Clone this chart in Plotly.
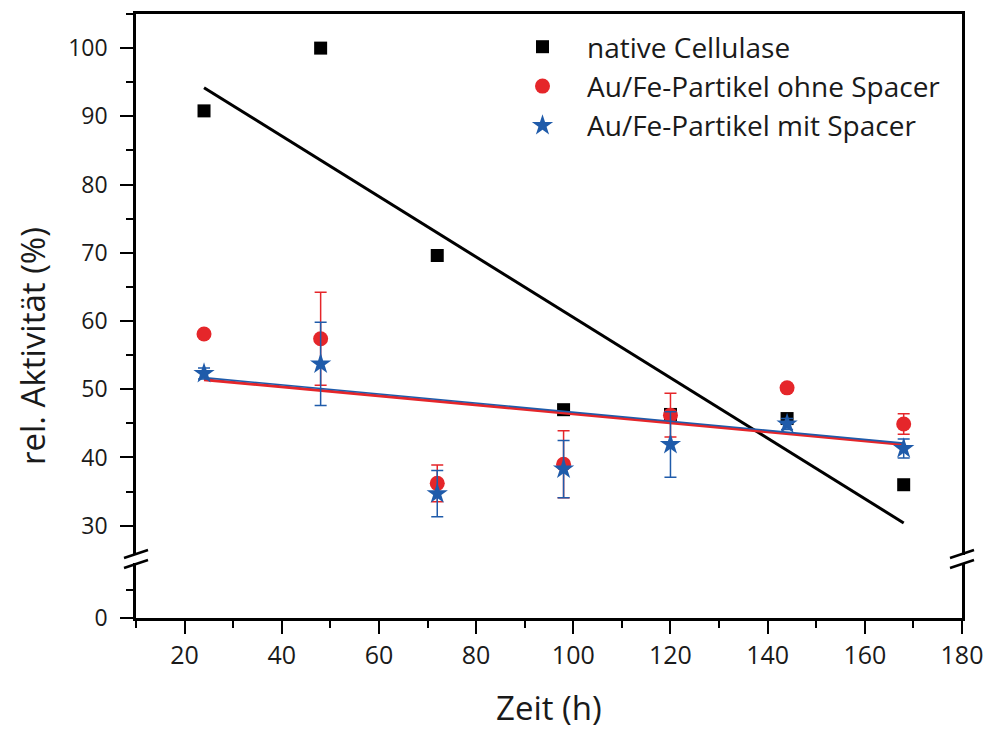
import plotly.graph_objects as go
from plotly.subplots import make_subplots

# ---------------- data ----------------
zeit_h = [24, 48, 72, 98, 120, 144, 168]

native_cellulase = [90.8, 100.0, 69.6, 47.0, 46.3, 45.7, 36.0]

ohne_spacer = [58.1, 57.4, 36.2, 39.0, 46.2, 50.2, 44.9]
ohne_spacer_err = [0.4, 6.8, 2.7, 4.9, 3.2, 0.4, 1.5]

mit_spacer = [52.3, 53.7, 34.7, 38.3, 41.9, 44.9, 41.3]
mit_spacer_err = [0.8, 6.1, 3.4, 4.2, 4.8, 0.8, 1.4]

# linear fit lines (values at the end points)
fit_x = [24, 168]
fit_native = [94.2, 30.4]
fit_ohne = [51.4, 41.9]
fit_mit = [51.7, 42.1]

names = ["native Cellulase", "Au/Fe-Partikel ohne Spacer", "Au/Fe-Partikel mit Spacer"]

BLACK = "#000000"
RED = "#E5262A"
BLUE = "#1F5BAA"
FONT = "Open Sans"
TXT = "#1a1a1a"

# ---------------- geometry ----------------
W, H = 986, 729
L, R, T, B = 136, 24, 14, 111
plot_h = H - T - B
upper_bottom_px = 555
lower_top_px = 563
y_bottom_px = H - B
dom_lower_top = (y_bottom_px - lower_top_px) / plot_h
dom_upper_bottom = (y_bottom_px - upper_bottom_px) / plot_h

fig = make_subplots(rows=2, cols=1, shared_xaxes=True, vertical_spacing=0.0)

fig.add_trace(go.Scatter(x=fit_x, y=fit_native, mode="lines",
                         line=dict(color=BLACK, width=3), showlegend=False,
                         hoverinfo="skip"), row=1, col=1)

fig.add_trace(go.Scatter(x=zeit_h, y=native_cellulase, mode="markers", name=names[0],
                         marker=dict(symbol="square", size=13, color=BLACK)),
              row=1, col=1)
fig.add_trace(go.Scatter(x=zeit_h, y=ohne_spacer, mode="markers", name=names[1],
                         marker=dict(symbol="circle", size=15, color=RED),
                         error_y=dict(type="data", array=ohne_spacer_err, visible=True,
                                      color=RED, thickness=1.5, width=6)),
              row=1, col=1)
fig.add_trace(go.Scatter(x=fit_x, y=fit_ohne, mode="lines",
                         line=dict(color=RED, width=3), showlegend=False,
                         hoverinfo="skip"), row=1, col=1)
fig.add_trace(go.Scatter(x=fit_x, y=fit_mit, mode="lines",
                         line=dict(color=BLUE, width=1.6), showlegend=False,
                         hoverinfo="skip"), row=1, col=1)
fig.add_trace(go.Scatter(x=zeit_h, y=mit_spacer, mode="markers", name=names[2],
                         marker=dict(symbol="star", size=16, color=BLUE),
                         error_y=dict(type="data", array=mit_spacer_err, visible=True,
                                      color=BLUE, thickness=1.5, width=6)),
              row=1, col=1)
# empty trace so that the lower (0 .. break) panel is drawn
fig.add_trace(go.Scatter(x=[None], y=[None], mode="markers", showlegend=False,
                         hoverinfo="skip"), row=2, col=1)

axis_common = dict(showline=True, linecolor=BLACK, linewidth=2.5, showgrid=False,
                   zeroline=False)

# upper x axis: only the top frame line
fig.update_xaxes(row=1, col=1, side="top", ticks="", showticklabels=False,
                 range=[10, 180], **axis_common)
# bottom x axis
fig.update_xaxes(row=2, col=1, range=[10, 180], tick0=0, dtick=20,
                 ticks="outside", ticklen=13, tickwidth=2, tickcolor=BLACK,
                 tickfont=dict(family=FONT, size=25, color=TXT),
                 ticklabelstandoff=0,
                 minor=dict(dtick=10, tick0=0, ticks="outside", ticklen=7,
                            tickwidth=2, tickcolor=BLACK),
                 **axis_common)

# upper y axis
fig.update_yaxes(row=1, col=1, range=[25.7, 105.0], domain=[dom_upper_bottom, 1],
                 tick0=0, dtick=10, mirror=True,
                 ticks="outside", ticklen=13, tickwidth=2, tickcolor=BLACK,
                 tickfont=dict(family=FONT, size=23, color=TXT),
                 ticklabelstandoff=8,
                 minor=dict(dtick=5, tick0=0, ticks="outside", ticklen=7,
                            tickwidth=2, tickcolor=BLACK),
                 **axis_common)
# lower y axis
fig.update_yaxes(row=2, col=1, range=[0, 9.9], domain=[0, dom_lower_top],
                 tick0=0, dtick=10, mirror=True,
                 ticks="outside", ticklen=13, tickwidth=2, tickcolor=BLACK,
                 tickfont=dict(family=FONT, size=23, color=TXT),
                 ticklabelstandoff=8,
                 minor=dict(dtick=5, tick0=0, ticks="outside", ticklen=7,
                            tickwidth=2, tickcolor=BLACK),
                 **axis_common)

# axis break marks (decoration)
plot_w = W - L - R
def px_to_paper(px, py):
    return (px - L) / plot_w, (y_bottom_px - py) / plot_h

shapes = []
for ax_px in (L, W - R):
    for dy in (-5, 5):
        x0, y0 = px_to_paper(ax_px - 12, 559 + dy + 4)
        x1, y1 = px_to_paper(ax_px + 12, 559 + dy - 4)
        shapes.append(dict(type="line", xref="paper", yref="paper",
                           x0=x0, y0=y0, x1=x1, y1=y1,
                           line=dict(color=BLACK, width=2.5)))

# axis titles as annotations
ax_title_x, ax_title_y = px_to_paper(33, 346)
xt_x, xt_y = px_to_paper(549, 707)
annotations = [
    dict(text="rel. Aktivität (%)", xref="paper", yref="paper", x=ax_title_x, y=ax_title_y,
         textangle=-90, showarrow=False, xanchor="center", yanchor="middle",
         font=dict(family=FONT, size=33, color=TXT)),
    dict(text="Zeit (h)", xref="paper", yref="paper", x=xt_x, y=xt_y,
         showarrow=False, xanchor="center", yanchor="middle",
         font=dict(family=FONT, size=33, color=TXT)),
]

lx, ly = px_to_paper(498, 22)
fig.update_layout(
    width=W, height=H,
    margin=dict(l=L, r=R, t=T, b=B, autoexpand=False),
    paper_bgcolor="white", plot_bgcolor="white",
    shapes=shapes, annotations=annotations,
    showlegend=True,
    legend=dict(x=lx, y=ly, xanchor="left", yanchor="top",
                font=dict(family=FONT, size=28, color=TXT),
                bgcolor="rgba(0,0,0,0)", borderwidth=0, itemwidth=79),
)

fig.write_html("out.html")
